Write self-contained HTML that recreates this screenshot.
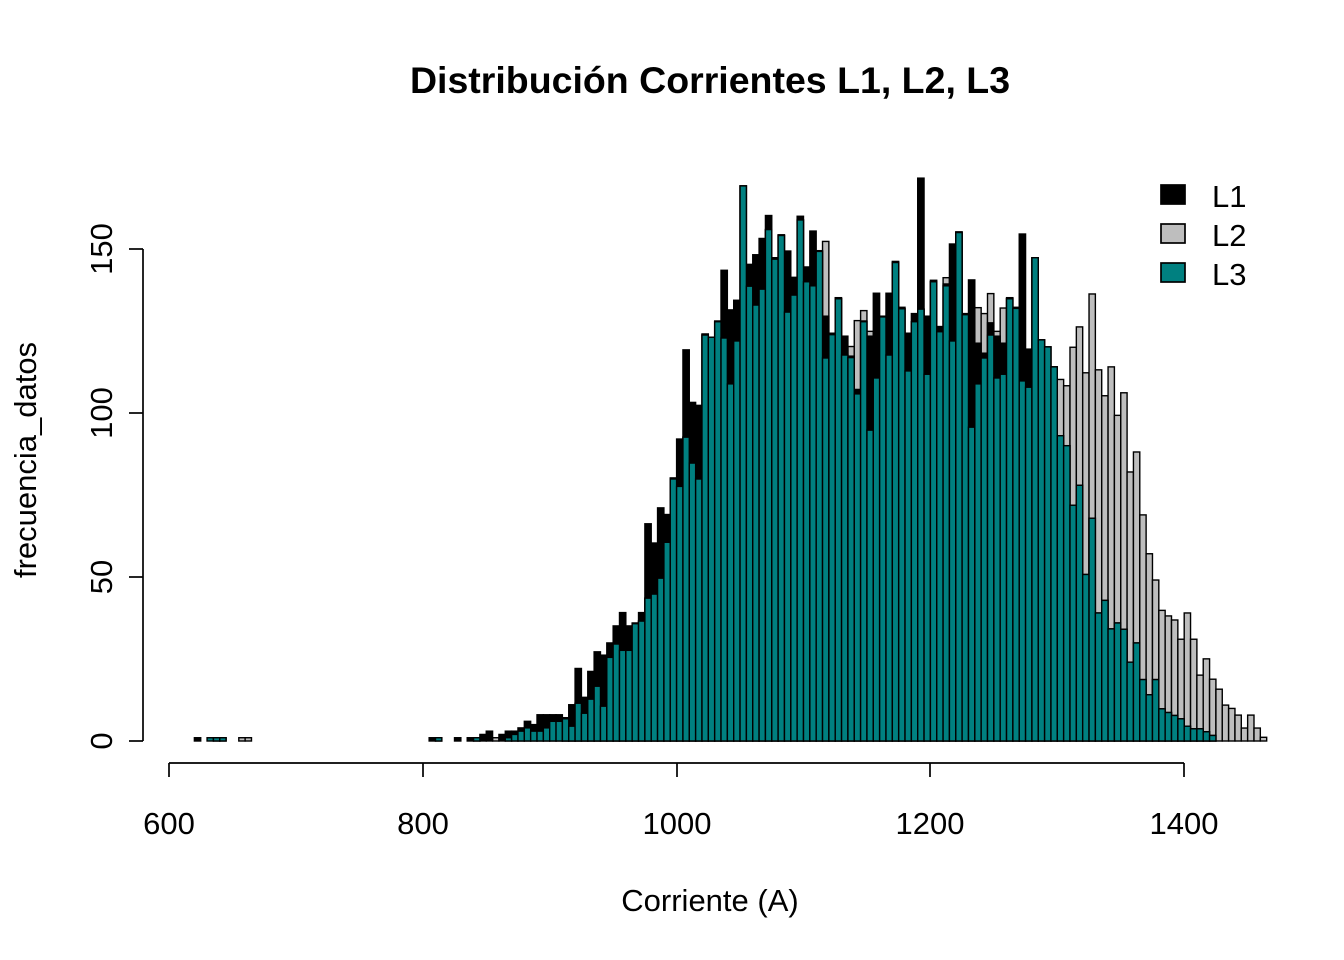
<!DOCTYPE html>
<html><head><meta charset="utf-8"><style>
html,body{margin:0;padding:0;background:#fff;}
svg{display:block;font-family:"Liberation Sans",Arial,sans-serif;}
</style></head><body>
<svg id="s" width="1344" height="960" viewBox="0 0 1344 960" xmlns="http://www.w3.org/2000/svg">
<rect width="1344" height="960" fill="#fff"/>
<text x="710" y="93" text-anchor="middle" font-size="37.5" font-weight="bold">Distribución Corrientes L1, L2, L3</text>
<g id="bars"></g>
<g stroke="#000" stroke-width="1.7" fill="none">
<line x1="143" y1="249" x2="143" y2="741"/>
<line x1="129" y1="249" x2="143" y2="249"/>
<line x1="129" y1="413" x2="143" y2="413"/>
<line x1="129" y1="577" x2="143" y2="577"/>
<line x1="129" y1="741" x2="143" y2="741"/>
<line x1="169" y1="763" x2="1184" y2="763"/>
<line x1="169" y1="763" x2="169" y2="777"/>
<line x1="423" y1="763" x2="423" y2="777"/>
<line x1="677" y1="763" x2="677" y2="777"/>
<line x1="930" y1="763" x2="930" y2="777"/>
<line x1="1184" y1="763" x2="1184" y2="777"/>
</g>
<g font-size="31" text-anchor="middle">
<text transform="translate(112,249) rotate(-90)">150</text>
<text transform="translate(112,413) rotate(-90)">100</text>
<text transform="translate(112,577) rotate(-90)">50</text>
<text transform="translate(112,741) rotate(-90)">0</text>
<text x="169" y="834">600</text>
<text x="423" y="834">800</text>
<text x="677" y="834">1000</text>
<text x="930" y="834">1200</text>
<text x="1184" y="834">1400</text>
<text x="710" y="911">Corriente (A)</text>
<text transform="translate(36,460) rotate(-90)">frecuencia_datos</text>
</g>
<g stroke="#000" stroke-width="1.7">
<rect x="1161" y="185" width="24" height="19" fill="#000"/>
<rect x="1161" y="224" width="24" height="19" fill="#bebebe"/>
<rect x="1161" y="263" width="24" height="19" fill="#008080"/>
</g>
<g font-size="31">
<text x="1212" y="207">L1</text>
<text x="1212" y="246">L2</text>
<text x="1212" y="285">L3</text>
</g>
</svg>
<script>
var Z=[[910,1480,null,1483],[915,1445,null,1503],[920,1347,null,1441],[925,1425,null,1468],[930,1355,null,1430],[935,1302,null,1395],[940,1311,null,1449],[945,1278,null,1317],[950,1232,null,1281],[955,1196,null,1298],[960,1232,null,1298],[965,1224,null,1226],[970,1196,null,1219],[975,956,null,1157],[980,1008,null,1146],[985,913,null,1103],[990,931,null,1006],[995,832,null,835],[1000,727,null,855],[1005,486,null,722],[1010,628,null,792],[1015,636,null,835],[1020,443,null,446],[1025,452,null,452],[1030,408,null,410],[1035,271,null,454],[1040,378,null,578],[1045,352,null,462],[1050,43,null,43],[1055,255,null,314],[1060,229,null,365],[1065,185,null,322],[1070,123,null,161],[1075,237,null,241],[1080,175,null,177],[1085,219,null,384],[1090,290,null,338],[1095,125,null,135],
[1100,262,null,302],[1105,165,null,313],[1110,218,null,220],[1115,395,193,508],[1120,441,null,445],[1125,345,null,348],[1130,449,null,500],[1135,503,477,507],[1140,593,407,605],[1145,408,380,410],[1150,449,436,703],[1155,333,null,562],[1160,395,null,397],[1165,333,null,500],[1170,247,null,250],[1175,371,null,375],[1180,441,null,543],[1185,388,null,410],[1190,22,null,376],[1195,395,null,552],[1200,298,null,302],[1205,423,null,437],[1210,308,291,313],[1215,200,null,462],[1220,167,null,169],[1225,388,null,391],[1230,297,null,695],[1235,468,372,578],[1240,495,388,508],[1245,413,334,446],[1250,449,436,562],[1255,468,373,552],[1260,345,null,348],[1265,371,null,374],[1270,173,null,570],[1275,484,null,587],
[1280,null,null,237],[1285,null,null,459],[1290,null,null,478],[1295,null,null,532],[1300,null,566,718],[1305,null,583,745],[1310,null,479,906],[1315,null,424,852],[1320,null,548,1093],[1325,null,335,941],[1330,null,540,1197],[1335,null,610,1163],[1340,null,532,1240],[1345,null,663,1224],[1350,null,602,1241],[1355,null,816,1330],[1360,null,762,1278],[1365,null,932,1377],[1370,null,1037,1418],[1375,null,1108,1377],[1380,null,1190,1456],[1385,null,1205,1466],[1390,null,1216,1474],[1395,null,1268,1483],[1400,null,1197,1503],[1405,null,1268,1510],[1410,null,1365,1510],[1415,null,1321,1518],[1420,null,1376,1528],[1425,null,1403,1713],[1430,null,1446,1713],[1435,null,1455,1713],[1440,null,1473,1713],[1445,null,1508,1713],[1450,null,1473,1713],[1455,null,1508,1713],[1460,null,1533,1713]];
var C=[[620,1,0,0],[630,0,0,1],[635,1,0,1],[640,1,0,1],[655,0,1,0],[660,0,1,0],[805,1,0,0],[810,1,0,1],[825,1,0,0],[835,1,0,0],[840,1,0,1],[845,2,0,0],[850,3,0,0],[855,0,1,0],[860,2,0,0],[865,3,0,1],[870,3,0,2],[875,4,0,3],[880,6,0,4],[885,5,0,3],[890,8,0,3],[895,8,0,4],[900,8,0,6],[905,8,0,6]];
var bars=[];
var S=571/1543;
function X(v){return 169+(v-600)*1.269;}
C.forEach(function(r){bars.push([r[0],r[1]*3.28,r[2]*3.28,r[3]*3.28]);});
Z.forEach(function(r){
  function h(z){return 741-(170+z*S);}
  var l3=h(r[3]); if(l3<0)l3=0;
  var l1=r[1]==null?l3:h(r[1]);
  var l2=r[2]==null?Math.min(l1,l3):h(r[2]);
  bars.push([r[0],l1,l2,l3]);
});
var out='';
var cols=['#000','#bebebe','#008080'];
[[2,1],[1,0],[3,2]].forEach(function(p){
  bars.forEach(function(b){
    var hh=b[p[0]]; if(hh<=0.5)return;
    var x=X(b[0]), w=1.269*5;
    out+='<rect x="'+x.toFixed(2)+'" y="'+(741-hh).toFixed(2)+'" width="'+w.toFixed(2)+'" height="'+hh.toFixed(2)+'" fill="'+cols[p[1]]+'" stroke="#000" stroke-width="1.4"/>';
  });
});
document.getElementById('bars').innerHTML=out;
</script>
</body></html>
